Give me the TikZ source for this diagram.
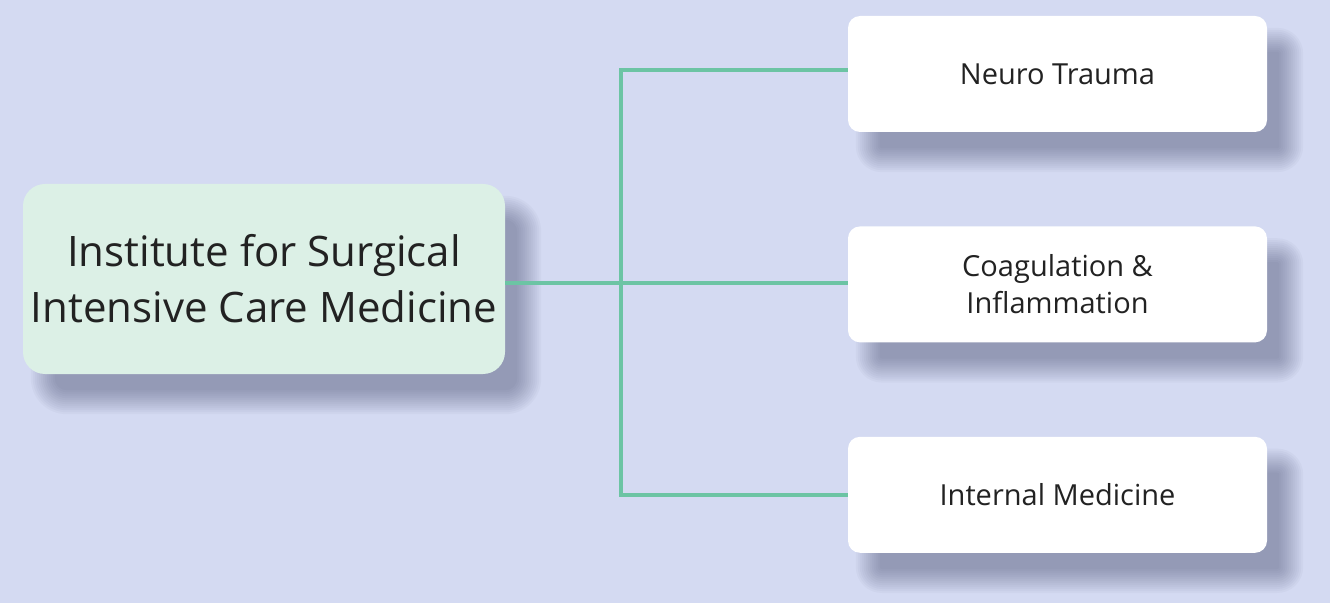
\documentclass[tikz,border=0pt]{standalone}
\usepackage{fontspec}
\setmainfont{Open Sans}
\usetikzlibrary{positioning,calc,backgrounds}
\definecolor{pagebg}{RGB}{212,218,242}
\definecolor{mintbg}{RGB}{220,240,230}
\definecolor{linkgreen}{RGB}{108,196,164}
\definecolor{shadowink}{RGB}{40,44,80}
\definecolor{textdark}{RGB}{34,34,34}
% soft shadow behind a named node: #1 node, #2 corner radius
\newcommand{\castshadow}[2]{%
  \foreach \e in {14,12,...,-10}{
    \pgfmathsetmacro{\rr}{max(#2+\e,1)}
    \fill[shadowink, opacity=0.032, rounded corners=\rr pt]
      ($(#1.south west)+(22-\e,-26-\e)$) rectangle ($(#1.north east)+(22+\e,-26+\e)$);
  }}

\begin{document}
\begin{tikzpicture}[
    x=1pt, y=1pt,
    head/.style={fill=mintbg, rounded corners=22pt, minimum width=482pt,
                minimum height=190pt, inner sep=0pt, align=center, text=textdark,
                font=\fontsize{42}{56}\selectfont},
    unit/.style={fill=white, rounded corners=12pt, minimum width=419pt,
                minimum height=116pt, inner sep=0pt, align=center, text=textdark,
                font=\fontsize{29}{37}\selectfont},
    link/.style={draw=linkgreen, line width=4pt}
]
    \begin{pgfonlayer}{background}
      \fill[pagebg] (0,0) rectangle (1330,603);
    \end{pgfonlayer}
    \useasboundingbox (0,0) rectangle (1330,603);

    \node[head] (inst) at (264,324) {Institute for Surgical\\Intensive Care Medicine};
    \node[unit] (neuro) at (1057.5,529) {Neuro Trauma};
    \node[unit, below=94pt of neuro] (coag) {Coagulation \&\\Inflammation};
    \node[unit, below=94pt of coag] (intern) {Internal Medicine};
    \coordinate (fork) at (621,320);
    \coordinate (top) at ($(neuro.west)+(0,4)$);

    \begin{pgfonlayer}{background}
      \castshadow{inst}{22}
      \castshadow{neuro}{12}
      \castshadow{coag}{12}
      \castshadow{intern}{12}
    \end{pgfonlayer}

    \draw[link] (fork -| inst.east) -- (fork -| coag.west);
    \draw[link] (top) -| (fork) |- (intern.west);
\end{tikzpicture}
\end{document}
